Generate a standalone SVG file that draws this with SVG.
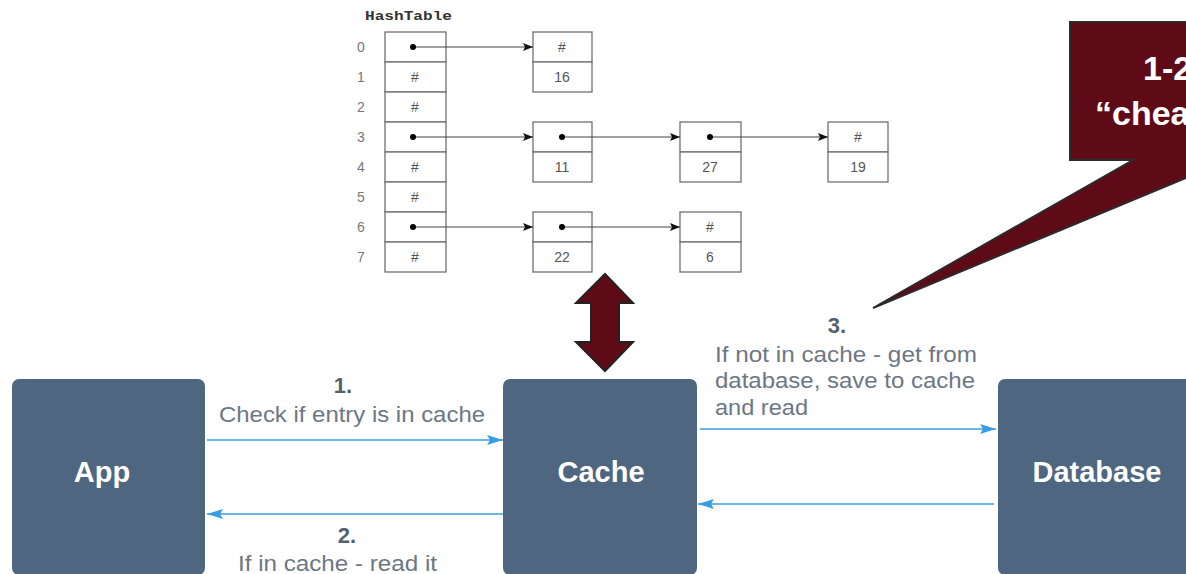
<svg xmlns="http://www.w3.org/2000/svg" width="1186" height="574" viewBox="0 0 1186 574">
  <defs>
    <marker id="blueHead" viewBox="0 0 16 10" refX="16" refY="5" markerWidth="16" markerHeight="10" markerUnits="userSpaceOnUse" orient="auto">
      <path d="M0,0 L16,5 L0,10 L3,5 Z" fill="#3b9de1"/>
    </marker>
    <marker id="blackHead" viewBox="0 0 10 8" refX="10" refY="4" markerWidth="10" markerHeight="8" markerUnits="userSpaceOnUse" orient="auto">
      <path d="M0,0 L10,4 L0,8 L2,4 Z" fill="#111"/>
    </marker>
  </defs>
  <style>
    .node rect{fill:#4e6680}
    .node text{font-family:"Liberation Sans",Arial,sans-serif;font-weight:bold;font-size:29px;fill:#fff;text-anchor:middle}
    .step{font-family:"Liberation Sans",Arial,sans-serif;font-weight:bold;font-size:22px;fill:#55606d;text-anchor:middle}
    .note{font-family:"Liberation Sans",Arial,sans-serif;font-size:22px;fill:#6c7784}
    .flow{stroke:#3b9de1;stroke-width:1.6;fill:none}
    .cell{fill:#fff;stroke:#707070;stroke-width:1.3}
    .ht{font-family:"Liberation Sans",Arial,sans-serif;font-size:14px;fill:#555;text-anchor:middle}
    .idx{font-family:"Liberation Sans",Arial,sans-serif;font-size:14px;fill:#777;text-anchor:middle}
    .ptr{stroke:#444;stroke-width:1.1}
    .dot{fill:#000}
    .callout{fill:#5f0b17;stroke:#2b2b2b;stroke-width:2}
    .callout-text{font-family:"Liberation Sans",Arial,sans-serif;font-weight:bold;font-size:34px;fill:#fff}
    .swap{fill:#5f0b17;stroke:#222;stroke-width:2;stroke-linejoin:miter}
  </style>

  <!-- hash table with chained buckets -->
  <g id="hashtable">
    <text x="365" y="20" font-family="'Liberation Mono',monospace" font-weight="bold" font-size="13" fill="#333" textLength="87" lengthAdjust="spacingAndGlyphs">HashTable</text>
    <g class="idx-labels">
      <text class="idx" x="361" y="52">0</text>
      <text class="idx" x="361" y="82">1</text>
      <text class="idx" x="361" y="112">2</text>
      <text class="idx" x="361" y="142">3</text>
      <text class="idx" x="361" y="172">4</text>
      <text class="idx" x="361" y="202">5</text>
      <text class="idx" x="361" y="232">6</text>
      <text class="idx" x="361" y="262">7</text>
    </g>
    <g class="buckets">
      <rect class="cell" x="385" y="32" width="61" height="30"/>
      <rect class="cell" x="385" y="62" width="61" height="30"/>
      <rect class="cell" x="385" y="92" width="61" height="30"/>
      <rect class="cell" x="385" y="122" width="61" height="30"/>
      <rect class="cell" x="385" y="152" width="61" height="30"/>
      <rect class="cell" x="385" y="182" width="61" height="30"/>
      <rect class="cell" x="385" y="212" width="61" height="30"/>
      <rect class="cell" x="385" y="242" width="61" height="30"/>
      <text class="ht" x="415" y="82">#</text>
      <text class="ht" x="415" y="112">#</text>
      <text class="ht" x="415" y="172">#</text>
      <text class="ht" x="415" y="202">#</text>
      <text class="ht" x="415" y="262">#</text>
    </g>
  </g>

  <g id="entry-16">
    <rect class="cell" x="533" y="32" width="59" height="30"/>
    <rect class="cell" x="533" y="62" width="59" height="30"/>
    <text class="ht" x="562" y="52">#</text>
    <text class="ht" x="562" y="82">16</text>
  </g>
  <g id="entry-11">
    <rect class="cell" x="533" y="122" width="59" height="30"/>
    <rect class="cell" x="533" y="152" width="59" height="30"/>
    <text class="ht" x="562" y="172">11</text>
  </g>
  <g id="entry-27">
    <rect class="cell" x="680" y="122" width="61" height="30"/>
    <rect class="cell" x="680" y="152" width="61" height="30"/>
    <text class="ht" x="710" y="172">27</text>
  </g>
  <g id="entry-19">
    <rect class="cell" x="828" y="122" width="60" height="30"/>
    <rect class="cell" x="828" y="152" width="60" height="30"/>
    <text class="ht" x="858" y="142">#</text>
    <text class="ht" x="858" y="172">19</text>
  </g>
  <g id="entry-22">
    <rect class="cell" x="533" y="212" width="59" height="30"/>
    <rect class="cell" x="533" y="242" width="59" height="30"/>
    <text class="ht" x="562" y="262">22</text>
  </g>
  <g id="entry-6">
    <rect class="cell" x="680" y="212" width="61" height="30"/>
    <rect class="cell" x="680" y="242" width="61" height="30"/>
    <text class="ht" x="710" y="232">#</text>
    <text class="ht" x="710" y="262">6</text>
  </g>

  <!-- chain pointers -->
  <g id="pointers">
    <line class="ptr" x1="413" y1="47" x2="533" y2="47" marker-end="url(#blackHead)"/>
    <line class="ptr" x1="413" y1="137" x2="533" y2="137" marker-end="url(#blackHead)"/>
    <line class="ptr" x1="562" y1="137" x2="680" y2="137" marker-end="url(#blackHead)"/>
    <line class="ptr" x1="710" y1="137" x2="828" y2="137" marker-end="url(#blackHead)"/>
    <line class="ptr" x1="413" y1="227" x2="533" y2="227" marker-end="url(#blackHead)"/>
    <line class="ptr" x1="562" y1="227" x2="680" y2="227" marker-end="url(#blackHead)"/>
    <circle class="dot" cx="413" cy="47" r="3"/>
    <circle class="dot" cx="413" cy="137" r="3"/>
    <circle class="dot" cx="562" cy="137" r="3"/>
    <circle class="dot" cx="710" cy="137" r="3"/>
    <circle class="dot" cx="413" cy="227" r="3"/>
    <circle class="dot" cx="562" cy="227" r="3"/>
  </g>

  <!-- double-headed arrow between table and cache -->
  <g id="swap-arrow">
    <path class="swap" d="M605,274 L633,303 L619,303 L619,342 L633,342 L605,371 L576,342 L591,342 L591,303 L576,303 Z"/>
  </g>

  <!-- callout box -->
  <g id="callout">
    <path class="callout" d="M1070,22 L1240,22 L1240,160 L1229,160 L873,308 L1133,160 L1070,160 Z"/>
    <text class="callout-text" x="1143" y="80">1-2</text>
    <text class="callout-text" x="1095" y="125">“chea</text>
  </g>

  <!-- main flow nodes -->
  <g id="app" class="node">
    <rect x="12" y="379" width="193" height="196" rx="7"/>
    <text x="102" y="482">App</text>
  </g>
  <g id="cache" class="node">
    <rect x="503" y="379" width="194" height="196" rx="7"/>
    <text x="601" y="482">Cache</text>
  </g>
  <g id="database" class="node">
    <rect x="998" y="379" width="200" height="196" rx="7"/>
    <text x="1097" y="482">Database</text>
  </g>

  <!-- flow connectors -->
  <g id="connectors">
    <line class="flow" x1="207" y1="440" x2="503" y2="440" marker-end="url(#blueHead)"/>
    <line class="flow" x1="503" y1="514" x2="207" y2="514" marker-end="url(#blueHead)"/>
    <line class="flow" x1="700" y1="429" x2="996" y2="429" marker-end="url(#blueHead)"/>
    <line class="flow" x1="994" y1="504" x2="698" y2="504" marker-end="url(#blueHead)"/>
  </g>

  <!-- connector labels -->
  <g id="labels">
    <text class="step" x="343" y="393">1.</text>
    <text class="note" x="219" y="422" textLength="266" lengthAdjust="spacingAndGlyphs">Check if entry is in cache</text>
    <text class="step" x="347" y="543">2.</text>
    <text class="note" x="238" y="571" textLength="199" lengthAdjust="spacingAndGlyphs">If in cache - read it</text>
    <text class="step" x="837" y="333">3.</text>
    <text class="note" x="715" y="362" textLength="262" lengthAdjust="spacingAndGlyphs">If not in cache - get from</text>
    <text class="note" x="715" y="388" textLength="260" lengthAdjust="spacingAndGlyphs">database, save to cache</text>
    <text class="note" x="715" y="415" textLength="93" lengthAdjust="spacingAndGlyphs">and read</text>
  </g>
</svg>
